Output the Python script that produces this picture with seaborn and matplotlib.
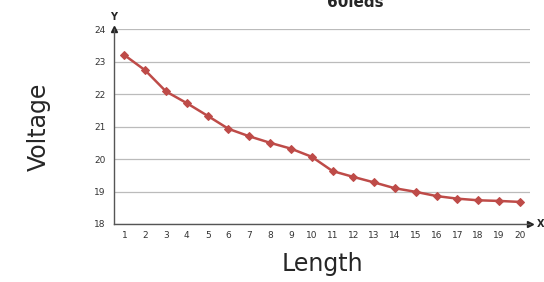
import numpy as np
import pandas as pd
import matplotlib
matplotlib.use('Agg')
import matplotlib.pyplot as plt
import seaborn as sns

length = list(range(1, 21))
voltage = [23.2, 22.73, 22.08, 21.72, 21.33, 20.93, 20.70, 20.50, 20.32, 20.07,
           19.63, 19.45, 19.28, 19.10, 18.99, 18.86, 18.78, 18.73, 18.71, 18.68]
y_ticks = [18, 19, 20, 21, 22, 23, 24]

df = pd.DataFrame({'Length': length, 'Voltage': voltage})

sns.set_style('white')
fig = plt.figure(figsize=(5.44, 2.82), dpi=100)
ax = fig.add_axes([0.2096, 0.2057, 0.765, 0.691])

sns.lineplot(data=df, x='Length', y='Voltage', ax=ax, color='#BE4B48',
             linewidth=1.8, marker='D', markersize=4, markeredgecolor='#BE4B48')

ax.set_xlim(0.5, 20.5)
ax.set_ylim(18, 24)
ax.set_xticks(length)
ax.set_xticklabels([str(v) for v in length], fontsize=6.5, color='#333333')
ax.set_yticks(y_ticks)
ax.set_yticklabels([str(v) for v in y_ticks], fontsize=6.5, color='#333333')
ax.yaxis.grid(True, color='#BBBBBB', linewidth=0.9)
ax.set_axisbelow(True)

# ticks between categories on x axis
ax.set_xticks(np.arange(0.5, 21, 1), minor=True)
ax.tick_params(axis='x', which='major', length=0, pad=5)
ax.tick_params(axis='x', which='minor', length=4, color='#555555', direction='out')
ax.tick_params(axis='y', length=4, color='#555555', direction='out', pad=2)

for s in ['top', 'right']:
    ax.spines[s].set_visible(False)
for s in ['left', 'bottom']:
    ax.spines[s].set_color('#555555')
    ax.spines[s].set_linewidth(1.0)

# axis arrows
ax.plot(1, 0, '>', color='#222222', markersize=4, transform=ax.transAxes, clip_on=False)
ax.plot(0, 1, '^', color='#222222', markersize=4, transform=ax.transAxes, clip_on=False)
ax.text(1.015, 0, 'X', transform=ax.transAxes, fontsize=7, fontweight='bold',
        va='center', ha='left')
ax.text(0, 1.035, 'Y', transform=ax.transAxes, fontsize=7, fontweight='bold',
        va='bottom', ha='center')

ax.set_xlabel('Length', fontsize=17, labelpad=9)
ax.set_ylabel('Voltage', fontsize=17, labelpad=31)
fig.text(0.653, 0.99, '60leds', fontsize=11, fontweight='bold', ha='center', va='center')

fig.savefig('out.png', dpi=100)
